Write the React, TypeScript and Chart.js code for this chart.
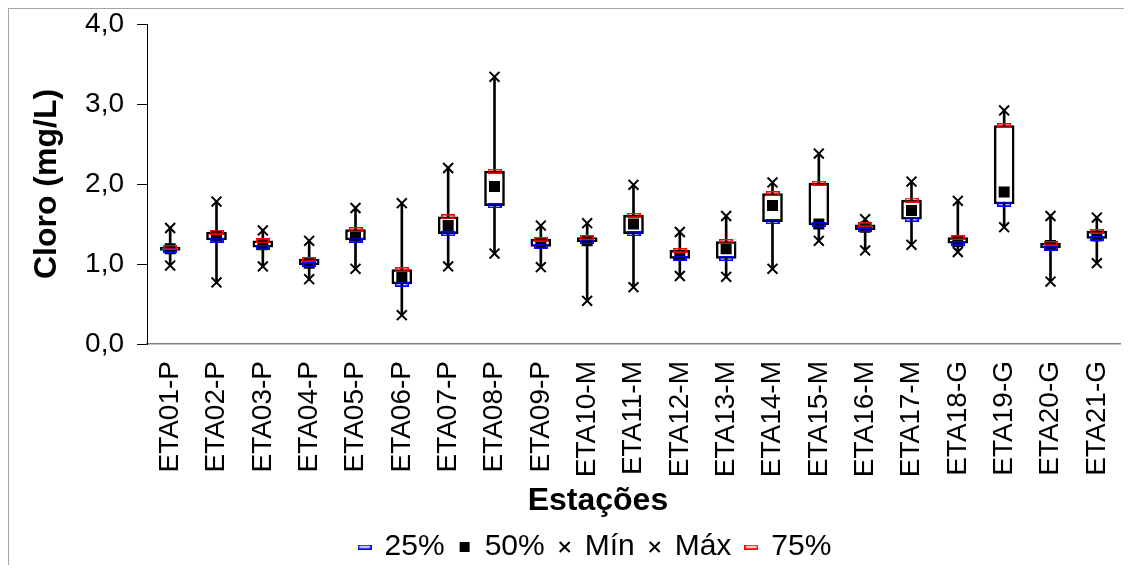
import React, { useEffect, useRef } from 'react';
import { Chart, registerables } from 'chart.js';

Chart.register(...registerables);

const stations = [
  'ETA01-P', 'ETA02-P', 'ETA03-P', 'ETA04-P', 'ETA05-P', 'ETA06-P', 'ETA07-P',
  'ETA08-P', 'ETA09-P', 'ETA10-M', 'ETA11-M', 'ETA12-M', 'ETA13-M', 'ETA14-M',
  'ETA15-M', 'ETA16-M', 'ETA17-M', 'ETA18-G', 'ETA19-G', 'ETA20-G', 'ETA21-G',
];
const minValues = [0.98, 0.77, 0.97, 0.81, 0.94, 0.36, 0.97, 1.13, 0.96, 0.54, 0.71, 0.85, 0.84, 0.94, 1.29, 1.17, 1.24, 1.15, 1.46, 0.78, 1.01];
const q25Values = [1.17, 1.30, 1.21, 0.99, 1.30, 0.75, 1.38, 1.73, 1.22, 1.28, 1.38, 1.07, 1.07, 1.53, 1.49, 1.43, 1.56, 1.26, 1.75, 1.20, 1.32];
const medianValues = [1.19, 1.35, 1.24, 1.01, 1.35, 0.83, 1.48, 1.97, 1.26, 1.29, 1.50, 1.11, 1.19, 1.73, 1.50, 1.46, 1.67, 1.28, 1.90, 1.23, 1.35];
const q75Values = [1.21, 1.40, 1.29, 1.06, 1.43, 0.93, 1.59, 2.16, 1.31, 1.33, 1.61, 1.17, 1.28, 1.88, 2.01, 1.49, 1.80, 1.33, 2.73, 1.26, 1.41];
const maxValues = [1.45, 1.78, 1.42, 1.29, 1.70, 1.76, 2.20, 3.34, 1.48, 1.51, 1.99, 1.40, 1.60, 2.02, 2.38, 1.56, 2.03, 1.79, 2.92, 1.60, 1.58];
const yTickLabels = ['0,0', '1,0', '2,0', '3,0', '4,0'];
const seriesLabels = ['25%', '50%', 'Mín', 'Máx', '75%'];
const xTitle = 'Estações';
const yTitle = 'Cloro (mg/L)';

const FONT = "'Liberation Sans', Arial, sans-serif";

function makeDash(color: string): HTMLCanvasElement {
  const c = document.createElement('canvas');
  c.width = 14;
  c.height = 5;
  const ctx = c.getContext('2d');
  if (ctx) {
    ctx.strokeStyle = color;
    ctx.lineWidth = 1.5;
    ctx.strokeRect(0.75, 0.75, 12.5, 3.5);
  }
  return c;
}

function noPad(s: any) {
  s.paddingTop = 0;
  s.paddingBottom = 0;
  s.paddingLeft = 0;
  s.paddingRight = 0;
}

export default function App() {
  const canvasRef = useRef<HTMLCanvasElement | null>(null);

  useEffect(() => {
    if (!canvasRef.current) return;
    const blueDash = makeDash('#0000ff');
    const redDash = makeDash('#ff0000');
    const boxData = q25Values.map((v, i) => [v, q75Values[i]]);
    const whiskerData = minValues.map((v, i) => [v, maxValues[i]]);

    const chart = new Chart(canvasRef.current, {
      type: 'bar',
      data: {
        labels: stations,
        datasets: [
          {
            type: 'line', label: seriesLabels[0], data: q25Values, showLine: false,
            pointStyle: blueDash as any, pointRadius: 7,
            borderColor: '#0000ff', backgroundColor: '#0000ff', order: 0,
          },
          {
            type: 'line', label: seriesLabels[1], data: medianValues, showLine: false,
            pointStyle: 'rect', pointRadius: 7.8, pointBorderWidth: 0,
            pointBackgroundColor: '#000', pointBorderColor: '#000',
            borderColor: '#000', backgroundColor: '#000', order: 0,
          },
          {
            type: 'line', label: seriesLabels[2], data: minValues, showLine: false,
            pointStyle: 'crossRot', pointRadius: 7, pointBorderWidth: 2,
            pointBorderColor: '#000', pointBackgroundColor: '#000',
            borderColor: '#000', backgroundColor: '#000', order: 0,
          },
          {
            type: 'line', label: seriesLabels[3], data: maxValues, showLine: false,
            pointStyle: 'crossRot', pointRadius: 7, pointBorderWidth: 2,
            pointBorderColor: '#000', pointBackgroundColor: '#000',
            borderColor: '#000', backgroundColor: '#000', order: 0,
          },
          {
            type: 'line', label: seriesLabels[4], data: q75Values, showLine: false,
            pointStyle: redDash as any, pointRadius: 7,
            borderColor: '#ff0000', backgroundColor: '#ff0000', order: -1,
          },
          {
            type: 'bar', label: '', data: boxData as any,
            backgroundColor: '#ffffff', borderColor: '#000000', borderWidth: 2.5,
            borderSkipped: false, barThickness: 20, grouped: false, order: 1,
          },
          {
            type: 'bar', label: '', data: whiskerData as any,
            backgroundColor: '#000000', borderWidth: 0,
            barThickness: 2, grouped: false, order: 2,
          },
        ] as any,
      },
      options: {
        animation: false,
        responsive: true,
        maintainAspectRatio: false,
        layout: { padding: { top: 15, right: 5, left: 58, bottom: -7 } },
        plugins: {
          tooltip: { enabled: false },
          legend: {
            position: 'bottom',
            labels: {
              usePointStyle: true,
              boxWidth: 10,
              boxHeight: 10,
              padding: 15,
              color: '#000',
              font: { size: 30, family: FONT },
              filter: (item: any) => item.text !== '',
              sort: (a: any, b: any) => a.datasetIndex - b.datasetIndex,
            },
          },
        },
        scales: {
          x: {
            type: 'category',
            offset: true,
            grid: { display: false, drawTicks: false },
            border: { display: true, color: '#808080', width: 1.5 },
            ticks: {
              color: '#000',
              font: { size: 28, family: FONT },
              minRotation: 90,
              maxRotation: 90,
              autoSkip: false,
              padding: 17,
            },
            title: {
              display: true,
              text: xTitle + '        ',
              color: '#000',
              font: { size: 32, weight: 'bold', family: FONT, lineHeight: 1 },
              padding: { top: 0, bottom: 0 },
            },
            afterFit: (s: any) => { s.height = 173; noPad(s); },
          },
          y: {
            min: 0,
            max: 4,
            grid: { drawOnChartArea: false, drawTicks: true, tickLength: 10, color: '#000' },
            border: { display: true, color: '#000', width: 1 },
            ticks: {
              stepSize: 1,
              color: '#000',
              padding: 13,
              font: { size: 28, family: FONT },
              callback: (_v: any, i: number) => yTickLabels[i],
            },
            title: {
              display: true,
              text: yTitle,
              color: '#000',
              font: { size: 32, weight: 'bold', family: FONT, lineHeight: 1 },
              padding: { top: -36, bottom: -36 },
            },
            afterFit: (s: any) => { s.width = 80; noPad(s); },
          },
        },
      } as any,
    });
    return () => chart.destroy();
  }, []);

  return (
    <div
      style={{
        position: 'relative',
        width: 1120,
        height: 556,
        borderTop: '1px solid #a6a6a6',
        borderLeft: '1px solid #a6a6a6',
      }}
    >
      <canvas ref={canvasRef} />
    </div>
  );
}
